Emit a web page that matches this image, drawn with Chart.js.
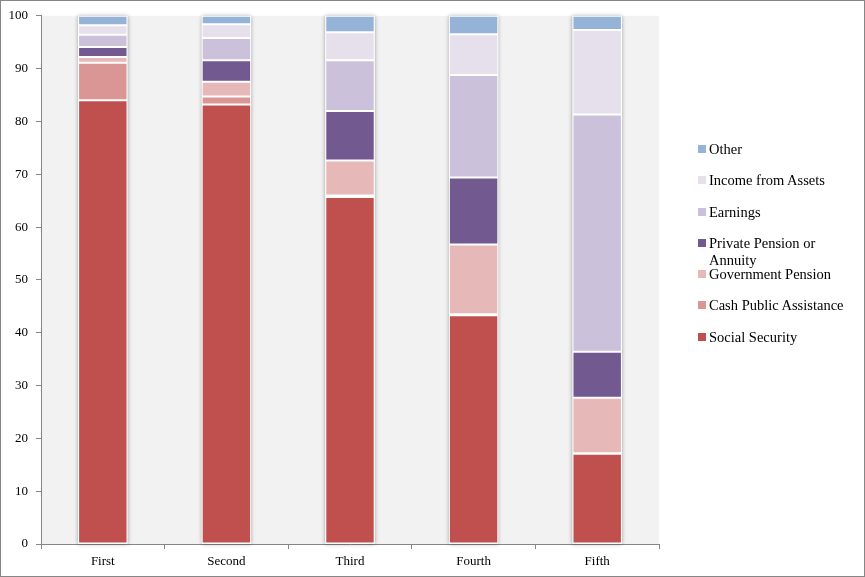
<!DOCTYPE html>
<html lang="en">
<head>
    <meta charset="UTF-8">
    <title>Income sources by quintile</title>
    <script src="https://cdn.jsdelivr.net/npm/chart.js@4"></script>
    <style>
        body { margin: 0; background: #fff; }
        .wrap { position: relative; width: 865px; height: 577px; }
        .legend {
            position: absolute; left: 698px; top: 141px;
            font-family: "Liberation Serif", "Times New Roman", serif;
            font-size: 14.5px; color: #000;
        }
        .legend-item { display: flex; align-items: flex-start; height: 31.3px; line-height: 17px; }
        .legend-item span.box { width: 8px; height: 8px; margin: 4px 3px 0 0; flex: none; }
        .legend-item span.txt { max-width: 150px; }
    </style>
</head>
<body>
<div class="wrap">
    <canvas id="incomeChart" width="865" height="577"></canvas>
    <div class="legend" id="legend"></div>
</div>

<script>
    const categories = ["First", "Second", "Third", "Fourth", "Fifth"];

    const socialSecurity       = [84.0, 83.2, 65.7, 43.3, 17.1];
    const cashPublicAssistance = [7.1, 1.5, 0.3, 0.2, 0.1];
    const governmentPension    = [1.1, 2.8, 6.6, 13.2, 10.5];
    const privatePension       = [1.9, 4.1, 9.4, 12.7, 8.7];
    const earnings             = [2.3, 4.2, 9.6, 19.4, 44.9];
    const incomeFromAssets     = [1.8, 2.6, 5.3, 7.7, 16.0];
    const other                = [1.8, 1.6, 3.1, 3.5, 2.7];

    const seriesNames = ["Social Security", "Cash Public Assistance", "Government Pension",
        "Private Pension or Annuity", "Earnings", "Income from Assets", "Other"];
    const seriesValues = [socialSecurity, cashPublicAssistance, governmentPension,
        privatePension, earnings, incomeFromAssets, other];
    const seriesColors = ["#C0504D", "#D99694", "#E6B9B8", "#725990", "#CCC1DA", "#E5E0EC", "#95B3D7"];

    const yTicks = [0, 10, 20, 30, 40, 50, 60, 70, 80, 90, 100];

    const fontFamily = '"Liberation Serif", "Times New Roman", serif';
    const axisGray = "#868686";

    // fundo cinza da área do gráfico + sombra das barras + moldura
    const decor = {
        id: "decor",
        beforeDraw(chart) {
            const { ctx, chartArea } = chart;
            ctx.save();
            ctx.fillStyle = "#F2F2F2";
            ctx.fillRect(chartArea.left, chartArea.top, chartArea.right - chartArea.left, chartArea.bottom - chartArea.top);
            ctx.restore();
        },
        beforeDatasetsDraw(chart) {
            const { ctx } = chart;
            const meta = chart.getDatasetMeta(0);
            const y = chart.scales.y;
            ctx.save();
            ctx.shadowColor = "rgba(0,0,0,0.35)";
            ctx.shadowBlur = 4;
            ctx.fillStyle = "#fff";
            meta.data.forEach(bar => {
                const top = y.getPixelForValue(100);
                const bottom = y.getPixelForValue(0);
                ctx.fillRect(bar.x - bar.width / 2, top, bar.width, bottom - top);
            });
            ctx.restore();
        },
        afterDraw(chart) {
            const { ctx } = chart;
            ctx.save();
            ctx.strokeStyle = axisGray;
            ctx.lineWidth = 1;
            ctx.strokeRect(0.5, 0.5, chart.width - 1, chart.height - 1);
            ctx.restore();
        }
    };

    const datasets = seriesNames.map((name, i) => ({
        label: name,
        data: seriesValues[i],
        backgroundColor: seriesColors[i],
        borderColor: "#fff",
        borderWidth: 1,
        borderSkipped: false,
        categoryPercentage: 1,
        barPercentage: 0.4,
    }));

    new Chart(document.getElementById("incomeChart").getContext("2d"), {
        type: "bar",
        data: { labels: categories, datasets: datasets },
        options: {
            responsive: false,
            animation: false,
            layout: { padding: { left: 0, right: 206, top: 12, bottom: 0 } },
            plugins: { legend: { display: false }, tooltip: { enabled: false } },
            scales: {
                x: {
                    stacked: true,
                    border: { color: axisGray, width: 1 },
                    grid: { offset: true, drawOnChartArea: false, drawTicks: true, tickLength: 5, color: axisGray },
                    ticks: { color: "#000", padding: 5, font: { family: fontFamily, size: 13 } },
                    afterFit(scale) { scale.height = 33; },
                },
                y: {
                    stacked: true,
                    min: 0,
                    max: 100,
                    border: { color: axisGray, width: 1 },
                    grid: { drawOnChartArea: false, drawTicks: true, tickLength: 5, color: axisGray },
                    afterBuildTicks(scale) { scale.ticks = yTicks.map(v => ({ value: v })); },
                    ticks: { color: "#000", padding: 8, font: { family: fontFamily, size: 13 } },
                    afterFit(scale) { scale.width = 41; },
                },
            },
        },
        plugins: [decor],
    });

    // legenda em ordem inversa, como no original
    const legend = document.getElementById("legend");
    for (let i = seriesNames.length - 1; i >= 0; i--) {
        const item = document.createElement("div");
        item.className = "legend-item";
        item.innerHTML = '<span class="box" style="background:' + seriesColors[i] + '"></span><span class="txt">' + seriesNames[i] + "</span>";
        legend.appendChild(item);
    }
</script>
</body>
</html>
